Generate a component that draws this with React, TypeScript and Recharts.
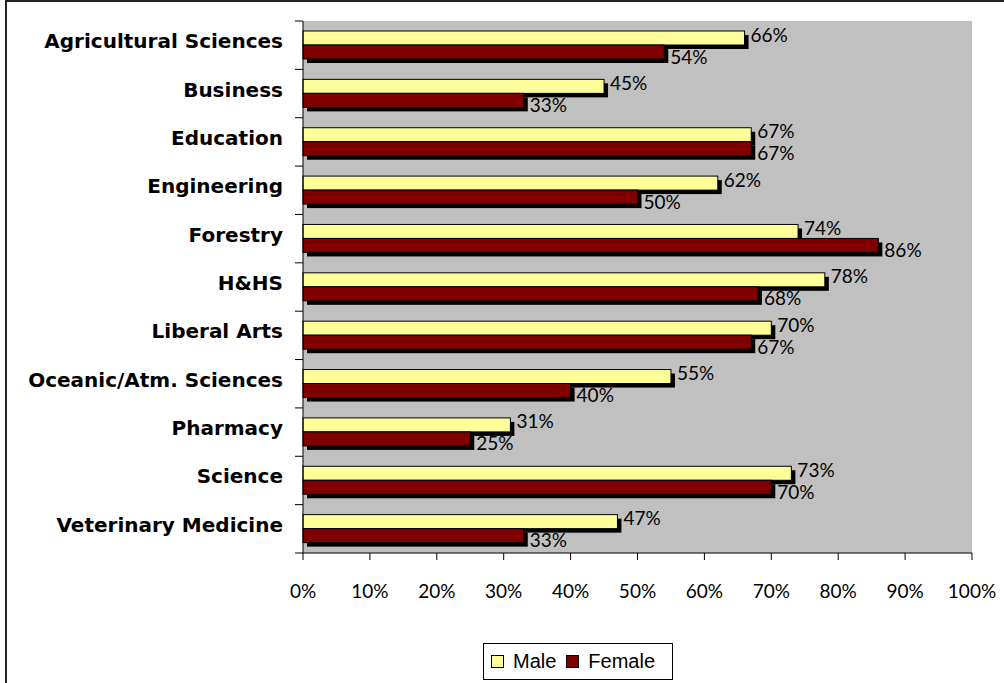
import React from 'react';
import { BarChart, Bar, XAxis, YAxis, Legend, LabelList } from 'recharts';

const categories = [
  'Agricultural Sciences',
  'Business',
  'Education',
  'Engineering',
  'Forestry',
  'H&HS',
  'Liberal Arts',
  'Oceanic/Atm. Sciences',
  'Pharmacy',
  'Science',
  'Veterinary Medicine',
];
const maleValues = [66, 45, 67, 62, 74, 78, 70, 55, 31, 73, 47];
const femaleValues = [54, 33, 67, 50, 86, 68, 67, 40, 25, 70, 33];
const xTicks = [0, 10, 20, 30, 40, 50, 60, 70, 80, 90, 100];
const seriesNames = ['Male', 'Female'];

const data = categories.map((c, i) => ({ category: c, Male: maleValues[i], Female: femaleValues[i] }));

const W = 1004;
const H = 683;
const PLOT_LEFT = 303;
const PLOT_TOP = 21;
const PLOT_RIGHT = 972;
const PLOT_BOTTOM = 553;
const BAND = (PLOT_BOTTOM - PLOT_TOP) / categories.length;
const MALE_FILL = '#FFFF99';
const FEMALE_FILL = '#800000';
const FONT = 'Lato, "Open Sans", sans-serif';
const CAT_FONT = '"DejaVu Sans", Lato, sans-serif';

const ShadowBar = (props: any) => {
  const { x, y, width, height, fill } = props;
  if (width == null || height == null) return null;
  return (
    <g>
      <rect x={x + 4} y={y + 4} width={width} height={height} fill="#000" />
      <rect x={x} y={y} width={width} height={height} fill={fill} stroke="#000" strokeWidth={1} />
    </g>
  );
};

const makeLabel = (dy: number) => (props: any) => {
  const { x, y, width, height, value } = props;
  return (
    <text
      x={x + width + 6}
      y={y + height / 2 + dy}
      dominantBaseline="central"
      fontFamily={FONT}
      fontSize={19}
      fill="#000"
    >
      {value}%
    </text>
  );
};

const CategoryTick = (props: any) => {
  const { y, payload, index } = props;
  return (
    <g>
      <line x1={PLOT_LEFT - 8} x2={PLOT_LEFT} y1={y - BAND / 2} y2={y - BAND / 2} stroke="#000" />
      {index === categories.length - 1 && (
        <line x1={PLOT_LEFT - 8} x2={PLOT_LEFT} y1={y + BAND / 2} y2={y + BAND / 2} stroke="#000" />
      )}
      <text
        x={PLOT_LEFT - 20}
        y={y - 4}
        textAnchor="end"
        dominantBaseline="central"
        fontFamily={CAT_FONT}
        fontWeight={700}
        fontSize={20}
        fill="#000"
      >
        {payload.value}
      </text>
    </g>
  );
};

const LegendContent = () => {
  const items = seriesNames.map((n) => ({ name: n, color: n === 'Male' ? MALE_FILL : FEMALE_FILL }));
  return (
    <div
      style={{
        border: '1px solid #000',
        background: '#fff',
        boxSizing: 'border-box',
        width: 190,
        height: 37,
        display: 'flex',
        alignItems: 'center',
        paddingLeft: 7,
        fontFamily: '"Liberation Sans", Arial, sans-serif',
        fontSize: 20,
        color: '#000',
      }}
    >
      {items.map((it, i) => (
        <div key={it.name} style={{ display: 'flex', alignItems: 'center', marginRight: i === 0 ? 10 : 0 }}>
          <span
            style={{
              display: 'inline-block',
              width: 11,
              height: 11,
              background: it.color,
              border: '1px solid #000',
              marginRight: 9,
            }}
          />
          <span>{it.name}</span>
        </div>
      ))}
    </div>
  );
};

export default function App() {
  return (
    <div style={{ position: 'absolute', left: 0, top: 0, width: W, height: H, overflow: 'hidden', background: '#fff' }}>
      <div
        style={{
          position: 'absolute',
          left: 5,
          top: 0,
          width: W + 40,
          height: H + 40,
          borderLeft: '2px solid #222',
          borderTop: '2px solid #222',
        }}
      />
      <div style={{ position: 'absolute', left: 0, top: 0 }}>
        <BarChart
          width={W}
          height={H}
          data={data}
          layout="vertical"
          margin={{ top: PLOT_TOP, right: W - PLOT_RIGHT, bottom: 0, left: 0 }}
          barSize={14}
          barGap={0}
        >
          <rect x={PLOT_LEFT} y={PLOT_TOP} width={PLOT_RIGHT - PLOT_LEFT} height={PLOT_BOTTOM - PLOT_TOP} fill="#C0C0C0" />
          <XAxis
            type="number"
            domain={[0, 100]}
            ticks={xTicks}
            tickFormatter={(v: number) => `${v}%`}
            axisLine={{ stroke: '#000' }}
            tickLine={{ stroke: '#000' }}
            tickSize={7}
            tickMargin={25}
            height={H - PLOT_BOTTOM}
            tick={{ fontFamily: FONT, fontSize: 19, fill: '#000' }}
            interval={0}
          />
          <YAxis
            type="category"
            dataKey="category"
            width={PLOT_LEFT}
            axisLine={{ stroke: '#000' }}
            tickLine={false}
            tick={<CategoryTick />}
            interval={0}
          />
          <Legend
            verticalAlign="middle"
            align="center"
            layout="horizontal"
            wrapperStyle={{ left: 483, top: 643, width: 190, height: 37 }}
            content={<LegendContent />}
          />
          <Bar dataKey="Male" fill={MALE_FILL} shape={<ShadowBar />} isAnimationActive={false}>
            <LabelList dataKey="Male" content={makeLabel(-4)} />
          </Bar>
          <Bar dataKey="Female" fill={FEMALE_FILL} shape={<ShadowBar />} isAnimationActive={false}>
            <LabelList dataKey="Female" content={makeLabel(4)} />
          </Bar>
        </BarChart>
      </div>
    </div>
  );
}
